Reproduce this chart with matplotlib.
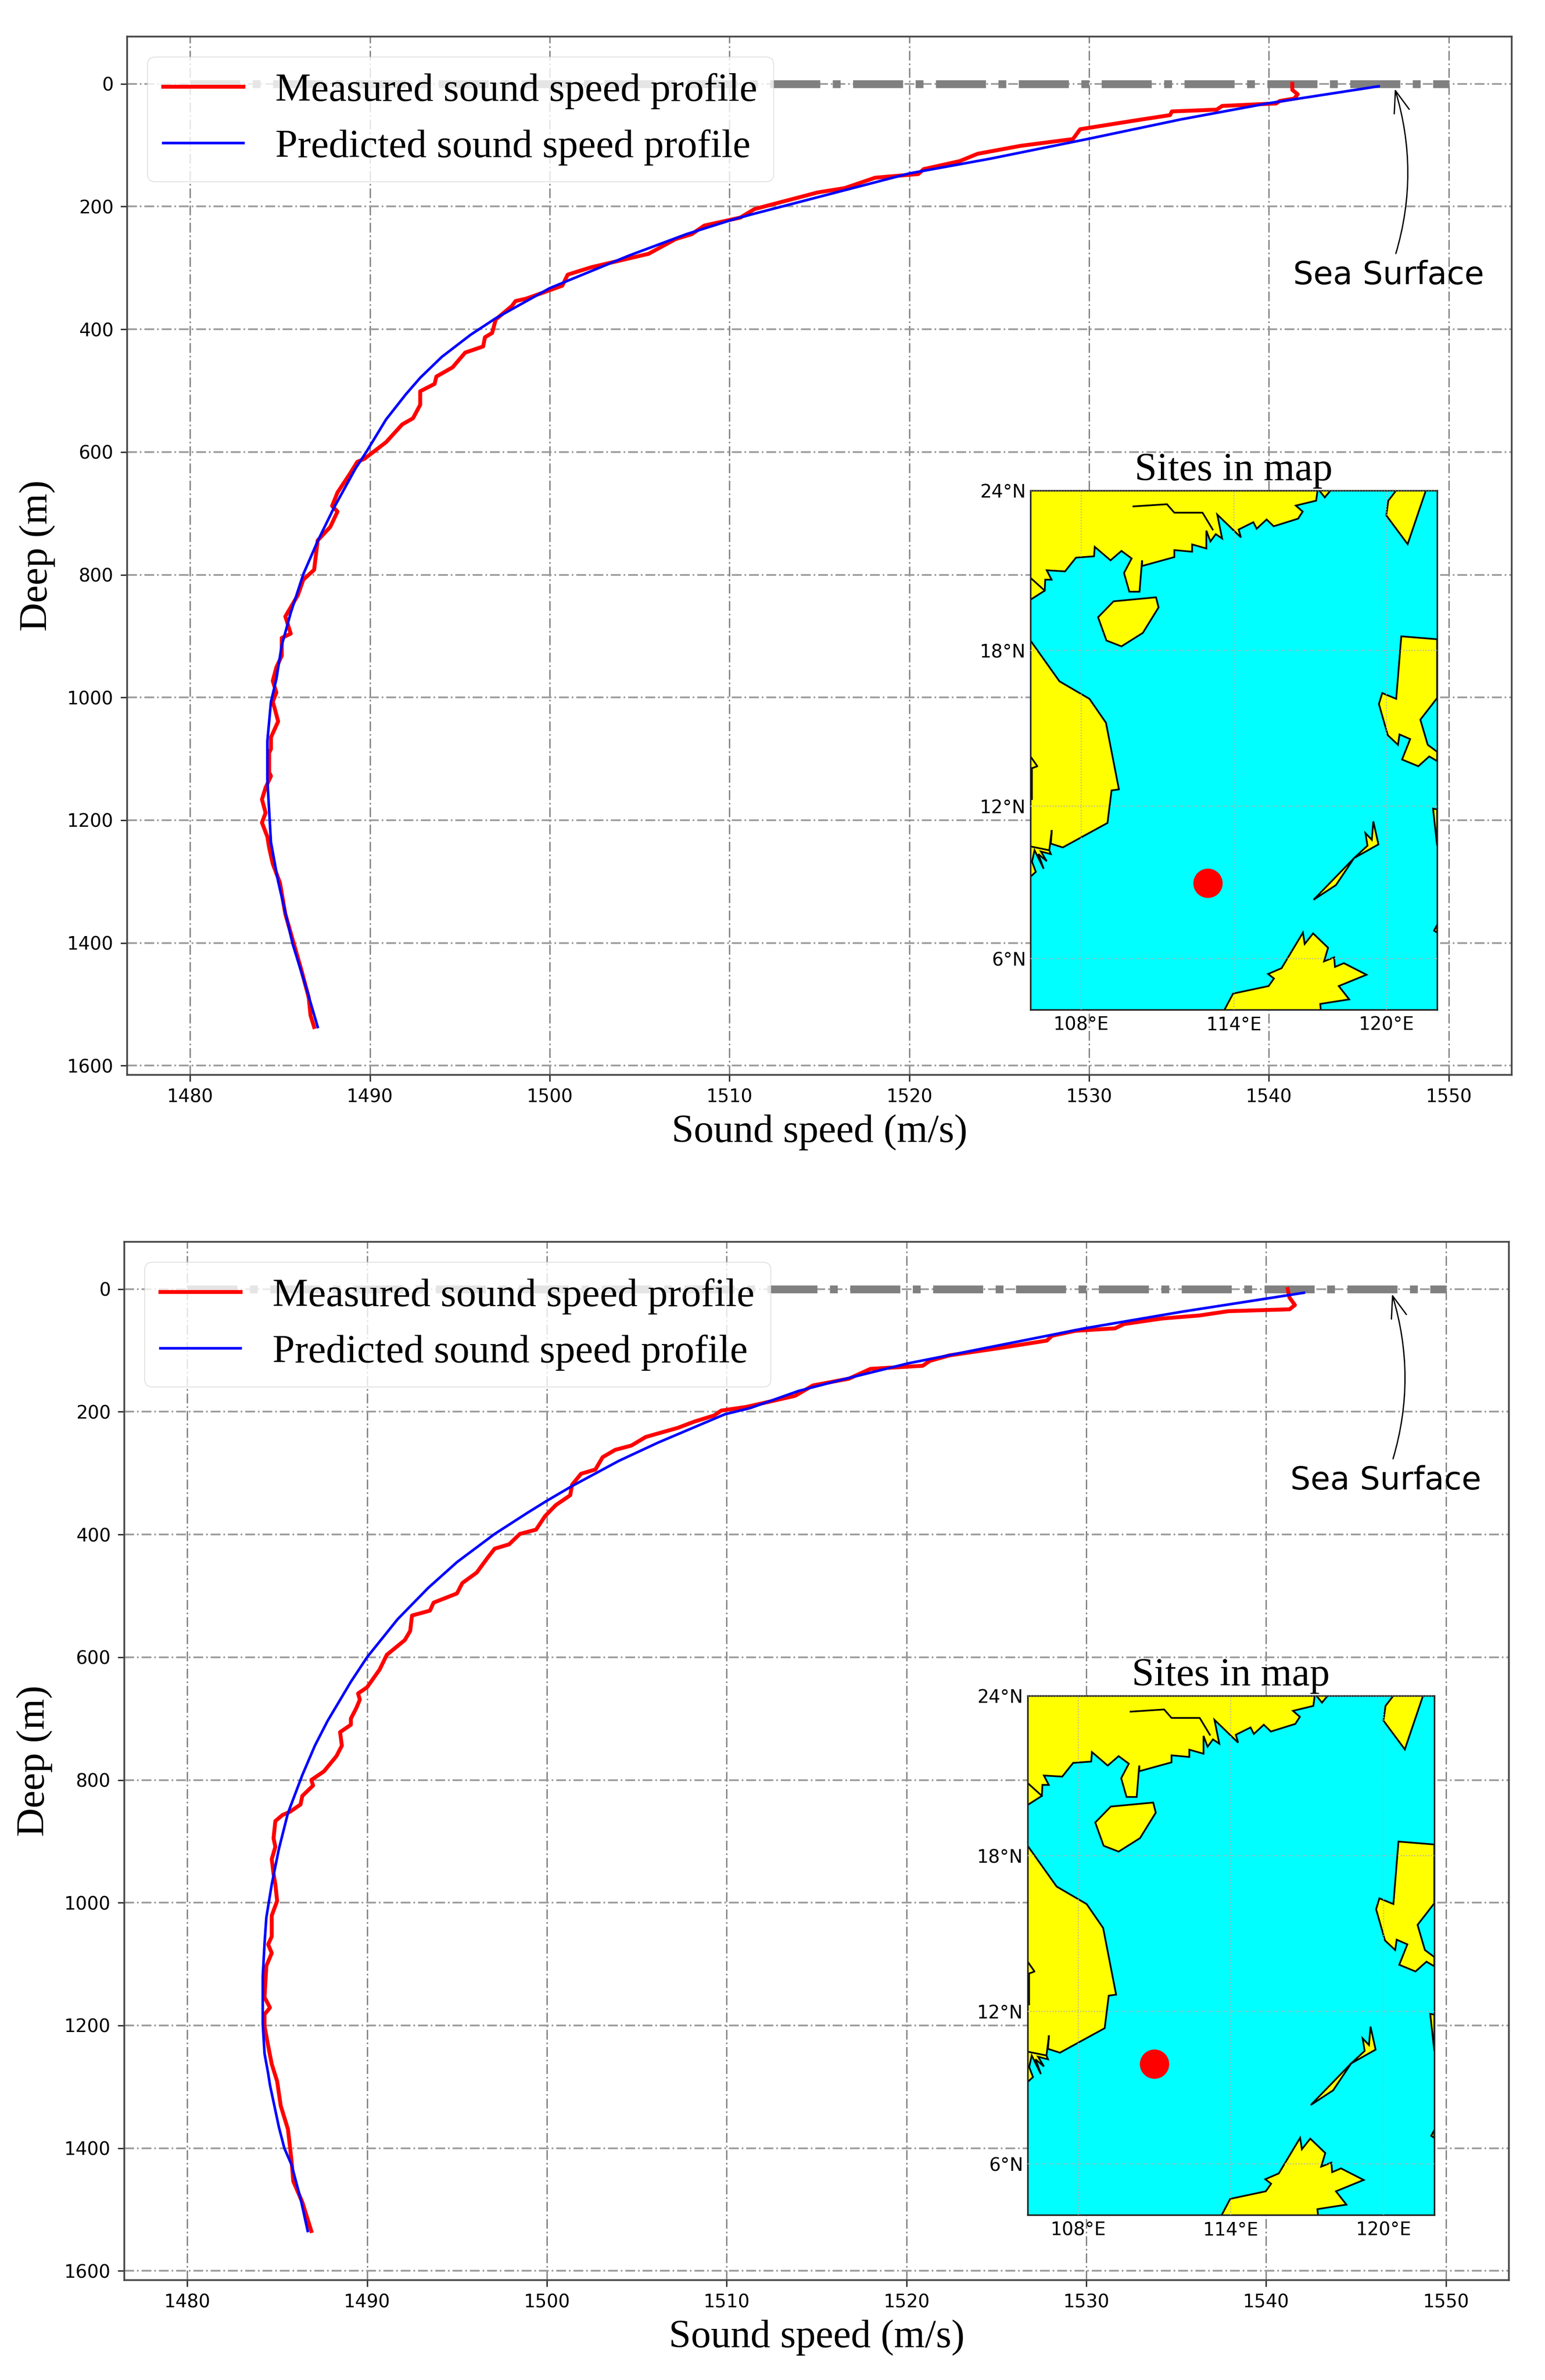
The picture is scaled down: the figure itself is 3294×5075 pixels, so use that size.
import numpy as np
import matplotlib
matplotlib.use("Agg")
import matplotlib.pyplot as plt

FIG_W = 3294
FIG_H = 5075
SERIF = "Liberation Serif"

X_TICKS = [1480, 1490, 1500, 1510, 1520, 1530, 1540, 1550]
Y_TICKS = [0, 200, 400, 600, 800, 1000, 1200, 1400, 1600]

# first panel, speed (m/s) and depth (m)
measured_speed_1 = [1541.3, 1541.3, 1541.6, 1541.4, 1540.6, 1540.4, 1537.4, 1537.1, 1534.6, 1534.5, 1532.5, 1529.5,
                    1529.1, 1526.2, 1523.8, 1522.8, 1520.8, 1520.5, 1518.1, 1516.4, 1514.9, 1511.4, 1510.6, 1508.6,
                    1507.9, 1507.0, 1505.5, 1502.3, 1501.0, 1500.7, 1498.7, 1498.1, 1497.9, 1497.0, 1496.8, 1496.4,
                    1496.3, 1495.3, 1494.6, 1493.7, 1493.6, 1492.8, 1492.8, 1492.4, 1491.8, 1490.9, 1489.7, 1489.3,
                    1488.9, 1488.2, 1487.9, 1488.2, 1487.8, 1487.1, 1486.9, 1486.3, 1486.0, 1485.3, 1485.6, 1485.1,
                    1485.1, 1484.8, 1484.6, 1484.8, 1484.6, 1484.7, 1484.9, 1484.5, 1484.5, 1484.4, 1484.4, 1484.5,
                    1484.2, 1484.0, 1484.2, 1484.0, 1484.3, 1484.4, 1484.6, 1485.0, 1485.3, 1485.7, 1486.2, 1486.6,
                    1486.7, 1486.9]
measured_depth_1 = [0, 10, 17, 24, 28, 32, 36, 42, 45, 51, 60, 74,
                    90, 101, 114, 126, 139, 147, 153, 170, 177, 204, 218, 231,
                    245, 253, 277, 299, 311, 329, 350, 354, 362, 384, 406, 413,
                    428, 438, 462, 477, 489, 501, 523, 545, 555, 584, 611, 616,
                    635, 666, 688, 697, 722, 744, 792, 808, 833, 868, 896, 903,
                    932, 951, 973, 992, 1007, 1017, 1039, 1065, 1084, 1090, 1122, 1128,
                    1147, 1166, 1188, 1204, 1227, 1245, 1271, 1302, 1353, 1394, 1445, 1489,
                    1518, 1537]
predicted_speed_1 = [1546.1, 1539.9, 1535.1, 1529.9, 1524.5, 1520.0, 1511.2, 1510.2, 1507.6, 1504.4, 1500.0, 1497.0,
                     1495.6, 1494.0, 1492.8, 1492.0, 1490.9, 1489.8, 1489.2, 1488.0, 1487.1, 1486.3, 1485.6, 1485.1,
                     1484.8, 1484.5, 1484.3, 1484.3, 1484.4, 1484.5, 1484.9, 1485.7, 1486.5, 1487.1]
predicted_depth_1 = [4, 32, 58, 90, 122, 146, 213, 221, 245, 280, 333, 382,
                     409, 445, 479, 506, 547, 600, 627, 691, 745, 799, 862, 915,
                     970, 1007, 1071, 1134, 1185, 1236, 1300, 1401, 1477, 1537]

# second panel
measured_speed_2 = [1541.2, 1541.3, 1541.6, 1541.3, 1537.9, 1536.3, 1534.2, 1532.1, 1531.6, 1529.4, 1528.1, 1527.8,
                    1525.2, 1522.4, 1521.3, 1520.9, 1518.0, 1516.8, 1514.8, 1513.8, 1512.6, 1511.1, 1509.7, 1509.3,
                    1508.2, 1507.3, 1505.5, 1504.7, 1503.8, 1503.1, 1502.7, 1501.9, 1501.4, 1501.3, 1500.5, 1499.9,
                    1499.4, 1498.5, 1497.9, 1497.1, 1496.7, 1496.1, 1495.3, 1495.0, 1493.7, 1493.5, 1492.5, 1492.4,
                    1492.1, 1491.1, 1490.7, 1490.0, 1489.5, 1489.6, 1489.4, 1489.1, 1489.1, 1488.5, 1488.6, 1488.3,
                    1487.6, 1486.9, 1487.0, 1486.4, 1486.3, 1485.7, 1485.3, 1484.9, 1484.8, 1484.9, 1484.7, 1484.8,
                    1484.9, 1485.0, 1484.7, 1484.7, 1484.5, 1484.7, 1484.4, 1484.3, 1484.6, 1484.3, 1484.3, 1484.5,
                    1484.7, 1485.0, 1485.2, 1485.6, 1485.8, 1485.9, 1486.4, 1486.9]
measured_depth_2 = [0, 14, 26, 33, 36, 43, 48, 57, 64, 68, 76, 84,
                    96, 108, 117, 125, 130, 146, 157, 174, 182, 192, 198, 206,
                    216, 226, 241, 255, 262, 274, 294, 301, 319, 336, 352, 370,
                    392, 399, 416, 423, 438, 462, 479, 496, 511, 524, 532, 557,
                    572, 596, 620, 649, 659, 669, 683, 700, 710, 722, 744, 761,
                    786, 800, 809, 826, 840, 852, 857, 867, 895, 909, 929, 953,
                    970, 997, 1021, 1055, 1068, 1082, 1103, 1154, 1171, 1182, 1201, 1233,
                    1263, 1291, 1331, 1369, 1420, 1454, 1488, 1535]
predicted_speed_2 = [1542.1, 1535.3, 1529.9, 1520.1, 1516.5, 1514.0, 1511.3, 1509.9, 1506.2, 1504.0, 1501.4, 1500.0,
                     1498.9, 1497.1, 1495.0, 1493.4, 1491.7, 1490.0, 1489.1, 1487.8, 1487.1, 1486.4, 1485.6, 1485.1,
                     1484.7, 1484.4, 1484.3, 1484.2, 1484.2, 1484.3, 1484.5, 1484.6, 1485.1, 1485.4, 1485.8, 1486.3,
                     1486.7]
predicted_depth_2 = [6, 37, 64, 121, 147, 166, 194, 204, 250, 280, 321, 345,
                     365, 399, 445, 487, 538, 600, 640, 704, 744, 792, 854, 912,
                     970, 1024, 1066, 1120, 1198, 1246, 1278, 1297, 1366, 1400, 1427, 1482,
                     1535]

# map outlines, lon/lat
china_lon = [106.0, 117.3, 117.24, 116.44, 116.71, 116.53, 115.57, 115.29, 114.9, 114.77, 114.19, 114.28, 113.35,
             113.54, 113.29, 113.08, 112.92, 112.92, 112.36, 112.36, 111.66, 111.66, 110.39, 110.39, 110.29, 109.89,
             109.68, 109.98, 109.58, 109.15, 108.53, 108.5, 107.79, 107.36, 106.64, 106.83, 106.58, 106.56, 106.0]
china_lat = [24.0, 24.0, 23.59, 23.41, 23.19, 22.93, 22.65, 22.9, 22.56, 22.8, 22.53, 22.24, 23.08,
             22.2, 22.36, 22.09, 22.49, 21.83, 21.98, 21.71, 21.77, 21.51, 21.18, 21.39, 20.22, 20.22,
             20.92, 21.46, 21.74, 21.39, 21.89, 21.54, 21.49, 20.98, 21.02, 20.67, 20.67, 20.26, 19.92]
taiwan_strait_lon = [117.33, 117.58, 117.84]
taiwan_strait_lat = [24.0, 23.71, 24.0]
hainan_lon = [108.66, 109.27, 110.94, 111.04, 110.42, 109.58, 108.99]
hainan_lat = [19.26, 19.86, 20.01, 19.63, 18.67, 18.16, 18.38]
vietnam_lon = [106.0, 107.14, 108.32, 108.97, 109.48, 109.19, 109.03, 107.27, 106.8, 106.84, 106.74, 106.8, 106.41,
               106.64, 106.31, 106.52, 106.16, 106.06, 106.21, 106.0]
vietnam_lat = [18.38, 16.83, 16.16, 15.24, 12.66, 12.62, 11.35, 10.39, 10.54, 11.07, 10.28, 10.13, 10.23,
               9.85, 10.13, 9.55, 10.28, 9.83, 9.43, 9.24]
luzon_lon = [120.42, 120.08, 120.0, 120.84, 121.57]
luzon_lat = [24.0, 23.59, 23.05, 21.99, 24.0]
philippines_lon = [120.59, 122.0, 122.0, 121.34, 121.63, 122.0, 122.0, 121.69, 121.26, 120.62, 120.94, 120.52,
                   120.46, 120.06, 119.71, 119.84, 120.39]
philippines_lat = [18.54, 18.43, 16.19, 15.36, 14.39, 14.12, 13.76, 13.94, 13.56, 13.82, 14.61, 14.79,
                   14.39, 14.76, 15.96, 16.38, 16.16]
palawan_lon = [117.14, 118.02, 118.73, 119.69, 119.49, 119.43, 119.18, 119.26, 118.73]
palawan_lat = [8.33, 8.91, 9.97, 10.51, 11.41, 10.69, 10.95, 10.46, 9.97]
borneo_lon = [113.6, 113.97, 115.37, 115.58, 115.35, 115.88, 116.72, 116.79, 117.12, 117.71, 117.55, 117.95, 117.98,
              118.33, 119.22, 118.13, 118.54, 117.4, 117.43]
borneo_lat = [3.9, 4.61, 4.91, 5.21, 5.39, 5.62, 7.03, 6.58, 7.0, 6.43, 5.89, 6.05, 5.67,
              5.82, 5.36, 4.91, 4.38, 4.2, 3.9]
mindoro_lon = [121.84, 122.0, 122.0]
mindoro_lat = [11.91, 11.88, 10.46]
sabah_tip_lon = [121.88, 122.0, 122.0]
sabah_tip_lat = [7.11, 7.34, 7.03]
# open lines inside the land
river_lon = [110.05, 111.37, 111.66, 112.77, 113.17]
river_lat = [23.38, 23.46, 23.15, 23.15, 22.53]
gulf_lon = [106.0, 106.56]
gulf_lat = [20.74, 20.26]
cape_lon = [106.0, 106.27, 106.0]
cape_lat = [13.94, 13.56, 13.46]
edge_lon = [106.06, 106.06]
edge_lat = [13.49, 12.29]
delta_lon = [106.0, 106.74]
delta_lat = [10.43, 10.28]

map_x_ticks = [108, 114, 120]
map_x_labels = ["108°E", "114°E", "120°E"]
# the top label sits on the frame, just under 24 on this map's extent
map_y_ticks = [6, 12, 18, 23.96]
map_y_labels = ["6°N", "12°N", "18°N", "24°N"]

site_1 = (112.98, 8.98)
site_2 = (110.98, 9.94)


def axes_from_pixels(fig, left, top, right, bottom):
    return fig.add_axes([left / FIG_W, 1 - bottom / FIG_H, (right - left) / FIG_W, (bottom - top) / FIG_H])


def mercator(lat):
    return np.log(np.tan(np.pi / 4 + np.radians(lat) / 2))


def mercator_inv(y):
    return np.degrees(2 * np.arctan(np.exp(y)) - np.pi / 2)


def plot_profile(ax, measured_speed, measured_depth, predicted_speed, predicted_depth):
    ax.grid(axis="x", color="#808080", linewidth=2.0, linestyle=(0, (7.5, 2.2, 1.3, 2.2)))
    ax.grid(axis="y", color="#9a9a9a", linewidth=2.6, linestyle=(0, (5.8, 1.7, 1.0, 1.7)))
    ax.set_axisbelow(True)
    ax.plot([X_TICKS[0], X_TICKS[-1]], [0, 0], linestyle="-.", color="gray", linewidth=12)
    ax.plot(measured_speed, measured_depth, color="red", linewidth=6.0, label="Measured sound speed profile")
    ax.plot(predicted_speed, predicted_depth, color="blue", linewidth=4.0, label="Predicted sound speed profile")
    ax.set_xlim(1476.5, 1553.5)
    ax.set_ylim(1615, -77)
    ax.set_xticks(X_TICKS)
    ax.set_yticks(Y_TICKS)
    ax.tick_params(labelsize=28, length=9.8, width=2.2, pad=11, color="#333333")
    ax.set_xlabel("Sound speed (m/s)", fontsize=61, family=SERIF, labelpad=12)
    ax.set_ylabel("Deep (m)", fontsize=61, family=SERIF, labelpad=18)
    for spine in ax.spines.values():
        spine.set_linewidth(2.6)
        spine.set_color("#444444")
    ax.legend(loc="upper left", prop={"family": SERIF, "size": 61.5})
    ax.annotate(
        "Sea Surface",
        xy=(1547.0, 8),
        xytext=(1546.65, 312),
        fontsize=49,
        ha="center",
        va="center",
        arrowprops=dict(
            arrowstyle="->,head_length=0.42,head_width=0.15",
            mutation_scale=80,
            connectionstyle="arc3,rad=0.17",
            color="black",
            linewidth=2.0,
            shrinkA=8,
            shrinkB=0,
        ),
    )


def plot_map(ax, site):
    ax.set_facecolor("#00ffff")
    ax.set_yscale("function", functions=(mercator, mercator_inv))
    land = [
        (china_lon, china_lat),
        (taiwan_strait_lon, taiwan_strait_lat),
        (hainan_lon, hainan_lat),
        (vietnam_lon, vietnam_lat),
        (luzon_lon, luzon_lat),
        (philippines_lon, philippines_lat),
        (palawan_lon, palawan_lat),
        (borneo_lon, borneo_lat),
        (mindoro_lon, mindoro_lat),
        (sabah_tip_lon, sabah_tip_lat),
    ]
    for lon, lat in land:
        ax.fill(lon, lat, facecolor="yellow", edgecolor="black", linewidth=2.6, zorder=2)
    for lon, lat in [(river_lon, river_lat), (gulf_lon, gulf_lat), (cape_lon, cape_lat),
                     (edge_lon, edge_lat), (delta_lon, delta_lat)]:
        ax.plot(lon, lat, color="black", linewidth=2.6, zorder=2)
    ax.plot(site[0], site[1], "o", color="red", markersize=45, markeredgewidth=0, zorder=5)
    ax.set_xlim(106, 122)
    ax.set_ylim(3.97, 23.96)
    ax.set_xticks(map_x_ticks, map_x_labels)
    ax.set_yticks(map_y_ticks, map_y_labels)
    ax.minorticks_off()
    ax.tick_params(axis="x", labelsize=28, length=0, pad=10)
    ax.tick_params(axis="y", labelsize=28, length=0, pad=7)
    ax.grid(color="#b0b0b0", linewidth=1.6, linestyle=":", zorder=3)
    ax.set_axisbelow(False)
    ax.set_title("Sites in map", fontsize=61.5, family=SERIF, pad=16)
    for spine in ax.spines.values():
        spine.set_linewidth(2.4)
        spine.set_color("#222222")


if __name__ == "__main__":
    fig = plt.figure(figsize=(FIG_W / 100, FIG_H / 100), dpi=100)

    ax_top = axes_from_pixels(fig, 271, 78, 3223, 2292)
    plot_profile(ax_top, measured_speed_1, measured_depth_1, predicted_speed_1, predicted_depth_1)
    map_top = axes_from_pixels(fig, 2197, 1046, 3064, 2153)
    plot_map(map_top, site_1)

    ax_bottom = axes_from_pixels(fig, 265, 2648, 3217, 4862)
    plot_profile(ax_bottom, measured_speed_2, measured_depth_2, predicted_speed_2, predicted_depth_2)
    map_bottom = axes_from_pixels(fig, 2191, 3616, 3058, 4723)
    plot_map(map_bottom, site_2)

    fig.savefig("out.png", dpi=100)
